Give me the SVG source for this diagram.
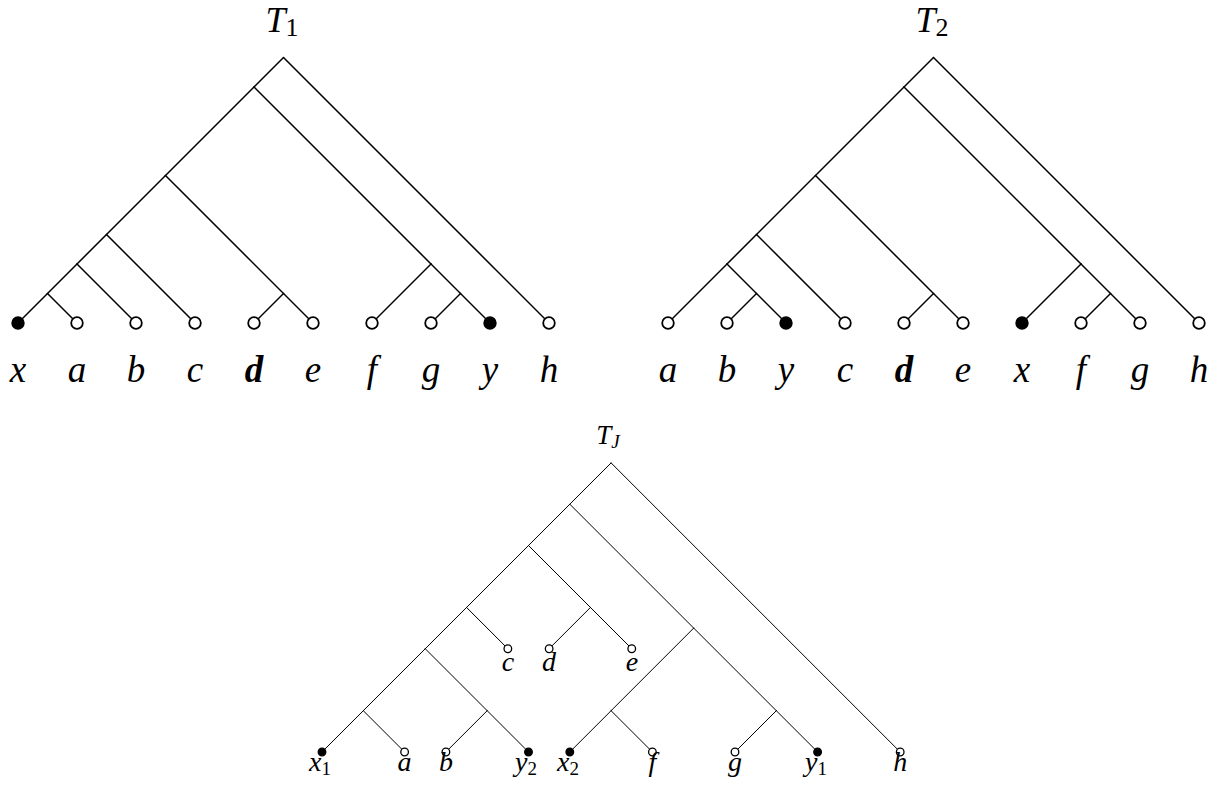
<svg xmlns="http://www.w3.org/2000/svg" width="1222" height="785" viewBox="0 0 1222 785">
<style>
  .e1 { stroke: #000; stroke-width: 1.5; fill: none; stroke-linecap: round; }
  .e2 { stroke: #000; stroke-width: 1; fill: none; stroke-linecap: round; }
  .o1 { fill: #fff; stroke: #000; stroke-width: 1.8; }
  .f1 { fill: #000; stroke: #000; stroke-width: 1.8; }
  .o2 { fill: #fff; stroke: #000; stroke-width: 1.3; }
  .f2 { fill: #000; stroke: #000; stroke-width: 1.3; }
  text { font-family: "Liberation Serif", "DejaVu Serif", serif; fill: #000; }
  .lb1 { font-size: 37px; font-style: italic; text-anchor: middle; }
  .lb2 { font-size: 28px; font-style: italic; text-anchor: middle; }
  .bd { font-weight: bold; }
  .ttl { font-size: 36px; font-style: italic; text-anchor: middle; }
  .ttj { font-size: 27px; font-style: italic; text-anchor: middle; }
  .sub { font-style: normal; }
</style>

<!-- ===== T1 ===== -->
<g id="T1">
  <text id="T1-title" class="ttl" x="282" y="32">T<tspan class="sub" font-size="26" dy="4">1</tspan></text>
  <g id="T1-edges">
    <line class="e1" x1="283.5" y1="57.5" x2="254" y2="87"/>
    <line class="e1" x1="283.5" y1="57.5" x2="549" y2="323"/>
    <line class="e1" x1="254" y1="87" x2="165.5" y2="175.5"/>
    <line class="e1" x1="254" y1="87" x2="431" y2="264"/>
    <line class="e1" x1="165.5" y1="175.5" x2="106.5" y2="234.5"/>
    <line class="e1" x1="165.5" y1="175.5" x2="283.5" y2="293.5"/>
    <line class="e1" x1="106.5" y1="234.5" x2="77" y2="264"/>
    <line class="e1" x1="106.5" y1="234.5" x2="195" y2="323"/>
    <line class="e1" x1="77" y1="264" x2="47.5" y2="293.5"/>
    <line class="e1" x1="77" y1="264" x2="136" y2="323"/>
    <line class="e1" x1="47.5" y1="293.5" x2="18" y2="323"/>
    <line class="e1" x1="47.5" y1="293.5" x2="77" y2="323"/>
    <line class="e1" x1="283.5" y1="293.5" x2="254" y2="323"/>
    <line class="e1" x1="283.5" y1="293.5" x2="313" y2="323"/>
    <line class="e1" x1="431" y1="264" x2="372" y2="323"/>
    <line class="e1" x1="431" y1="264" x2="460.5" y2="293.5"/>
    <line class="e1" x1="460.5" y1="293.5" x2="431" y2="323"/>
    <line class="e1" x1="460.5" y1="293.5" x2="490" y2="323"/>
  </g>
  <g id="T1-x"><circle class="f1" cx="18" cy="323" r="5.8"/><text class="lb1" x="18" y="382">x</text></g>
  <g id="T1-a"><circle class="o1" cx="77" cy="323" r="5.8"/><text class="lb1" x="77" y="382">a</text></g>
  <g id="T1-b"><circle class="o1" cx="136" cy="323" r="5.8"/><text class="lb1" x="136" y="382">b</text></g>
  <g id="T1-c"><circle class="o1" cx="195" cy="323" r="5.8"/><text class="lb1" x="195" y="382">c</text></g>
  <g id="T1-d"><circle class="o1" cx="254" cy="323" r="5.8"/><text class="lb1 bd" x="254" y="382">d</text></g>
  <g id="T1-e"><circle class="o1" cx="313" cy="323" r="5.8"/><text class="lb1" x="313" y="382">e</text></g>
  <g id="T1-f"><circle class="o1" cx="372" cy="323" r="5.8"/><text class="lb1" x="372" y="382">f</text></g>
  <g id="T1-g"><circle class="o1" cx="431" cy="323" r="5.8"/><text class="lb1" x="431" y="382">g</text></g>
  <g id="T1-y"><circle class="f1" cx="490" cy="323" r="5.8"/><text class="lb1" x="490" y="382">y</text></g>
  <g id="T1-h"><circle class="o1" cx="549" cy="323" r="5.8"/><text class="lb1" x="549" y="382">h</text></g>
</g>

<!-- ===== T2 ===== -->
<g id="T2">
  <text id="T2-title" class="ttl" x="932" y="32">T<tspan class="sub" font-size="26" dy="4">2</tspan></text>
  <g id="T2-edges">
    <line class="e1" x1="933.5" y1="57.5" x2="904" y2="87"/>
    <line class="e1" x1="933.5" y1="57.5" x2="1199" y2="323"/>
    <line class="e1" x1="904" y1="87" x2="815.5" y2="175.5"/>
    <line class="e1" x1="904" y1="87" x2="1081" y2="264"/>
    <line class="e1" x1="815.5" y1="175.5" x2="756.5" y2="234.5"/>
    <line class="e1" x1="815.5" y1="175.5" x2="933.5" y2="293.5"/>
    <line class="e1" x1="756.5" y1="234.5" x2="727" y2="264"/>
    <line class="e1" x1="756.5" y1="234.5" x2="845" y2="323"/>
    <line class="e1" x1="727" y1="264" x2="668" y2="323"/>
    <line class="e1" x1="727" y1="264" x2="756.5" y2="293.5"/>
    <line class="e1" x1="756.5" y1="293.5" x2="727" y2="323"/>
    <line class="e1" x1="756.5" y1="293.5" x2="786" y2="323"/>
    <line class="e1" x1="933.5" y1="293.5" x2="904" y2="323"/>
    <line class="e1" x1="933.5" y1="293.5" x2="963" y2="323"/>
    <line class="e1" x1="1081" y1="264" x2="1022" y2="323"/>
    <line class="e1" x1="1081" y1="264" x2="1110.5" y2="293.5"/>
    <line class="e1" x1="1110.5" y1="293.5" x2="1081" y2="323"/>
    <line class="e1" x1="1110.5" y1="293.5" x2="1140" y2="323"/>
  </g>
  <g id="T2-a"><circle class="o1" cx="668" cy="323" r="5.8"/><text class="lb1" x="668" y="382">a</text></g>
  <g id="T2-b"><circle class="o1" cx="727" cy="323" r="5.8"/><text class="lb1" x="727" y="382">b</text></g>
  <g id="T2-y"><circle class="f1" cx="786" cy="323" r="5.8"/><text class="lb1" x="786" y="382">y</text></g>
  <g id="T2-c"><circle class="o1" cx="845" cy="323" r="5.8"/><text class="lb1" x="845" y="382">c</text></g>
  <g id="T2-d"><circle class="o1" cx="904" cy="323" r="5.8"/><text class="lb1 bd" x="904" y="382">d</text></g>
  <g id="T2-e"><circle class="o1" cx="963" cy="323" r="5.8"/><text class="lb1" x="963" y="382">e</text></g>
  <g id="T2-x"><circle class="f1" cx="1022" cy="323" r="5.8"/><text class="lb1" x="1022" y="382">x</text></g>
  <g id="T2-f"><circle class="o1" cx="1081" cy="323" r="5.8"/><text class="lb1" x="1081" y="382">f</text></g>
  <g id="T2-g"><circle class="o1" cx="1140" cy="323" r="5.8"/><text class="lb1" x="1140" y="382">g</text></g>
  <g id="T2-h"><circle class="o1" cx="1199" cy="323" r="5.8"/><text class="lb1" x="1199" y="382">h</text></g>
</g>

<!-- ===== TJ ===== -->
<g id="TJ">
  <text id="TJ-title" class="ttj" x="608" y="444">T<tspan font-size="19" dy="4">J</tspan></text>
  <g id="TJ-edges">
    <line class="e2" x1="611.1" y1="462.9" x2="569.8" y2="504.2"/>
    <line class="e2" x1="611.1" y1="462.9" x2="900.2" y2="752"/>
    <line class="e2" x1="569.8" y1="504.2" x2="528.5" y2="545.5"/>
    <line class="e2" x1="569.8" y1="504.2" x2="693.7" y2="628.1"/>
    <line class="e2" x1="528.5" y1="545.5" x2="466.55" y2="607.45"/>
    <line class="e2" x1="528.5" y1="545.5" x2="590.45" y2="607.45"/>
    <line class="e2" x1="466.55" y1="607.45" x2="425.25" y2="648.75"/>
    <line class="e2" x1="466.55" y1="607.45" x2="507.85" y2="648.75"/>
    <line class="e2" x1="590.45" y1="607.45" x2="549.15" y2="648.75"/>
    <line class="e2" x1="590.45" y1="607.45" x2="631.75" y2="648.75"/>
    <line class="e2" x1="425.25" y1="648.75" x2="363.3" y2="710.7"/>
    <line class="e2" x1="425.25" y1="648.75" x2="487.2" y2="710.7"/>
    <line class="e2" x1="363.3" y1="710.7" x2="322" y2="752"/>
    <line class="e2" x1="363.3" y1="710.7" x2="404.6" y2="752"/>
    <line class="e2" x1="487.2" y1="710.7" x2="445.9" y2="752"/>
    <line class="e2" x1="487.2" y1="710.7" x2="528.5" y2="752"/>
    <line class="e2" x1="693.7" y1="628.1" x2="611.1" y2="710.7"/>
    <line class="e2" x1="693.7" y1="628.1" x2="776.3" y2="710.7"/>
    <line class="e2" x1="611.1" y1="710.7" x2="569.8" y2="752"/>
    <line class="e2" x1="611.1" y1="710.7" x2="652.4" y2="752"/>
    <line class="e2" x1="776.3" y1="710.7" x2="735" y2="752"/>
    <line class="e2" x1="776.3" y1="710.7" x2="817.6" y2="752"/>
  </g>
  <g id="TJ-c"><circle class="o2" cx="507.85" cy="648.75" r="3.8"/><text class="lb2" x="508" y="671">c</text></g>
  <g id="TJ-d"><circle class="o2" cx="549.15" cy="648.75" r="3.8"/><text class="lb2" x="549" y="671">d</text></g>
  <g id="TJ-e"><circle class="o2" cx="631.75" cy="648.75" r="3.8"/><text class="lb2" x="632" y="671">e</text></g>
  <g id="TJ-x1"><circle class="f2" cx="322" cy="752" r="3.8"/><text class="lb2" x="320" y="771">x<tspan class="sub" font-size="19" dy="4">1</tspan></text></g>
  <g id="TJ-a"><circle class="o2" cx="404.6" cy="752" r="3.8"/><text class="lb2" x="404.6" y="771">a</text></g>
  <g id="TJ-b"><circle class="o2" cx="445.9" cy="752" r="3.8"/><text class="lb2" x="445.9" y="771">b</text></g>
  <g id="TJ-y2"><circle class="f2" cx="528.5" cy="752" r="3.8"/><text class="lb2" x="526" y="771">y<tspan class="sub" font-size="19" dy="4">2</tspan></text></g>
  <g id="TJ-x2"><circle class="f2" cx="569.8" cy="752" r="3.8"/><text class="lb2" x="568" y="771">x<tspan class="sub" font-size="19" dy="4">2</tspan></text></g>
  <g id="TJ-f"><circle class="o2" cx="652.4" cy="752" r="3.8"/><text class="lb2" x="652.4" y="771">f</text></g>
  <g id="TJ-g"><circle class="o2" cx="735" cy="752" r="3.8"/><text class="lb2" x="735" y="771">g</text></g>
  <g id="TJ-y1"><circle class="f2" cx="817.6" cy="752" r="3.8"/><text class="lb2" x="816" y="771">y<tspan class="sub" font-size="19" dy="4">1</tspan></text></g>
  <g id="TJ-h"><circle class="o2" cx="900.2" cy="752" r="3.8"/><text class="lb2" x="900.2" y="771">h</text></g>
</g>
</svg>
